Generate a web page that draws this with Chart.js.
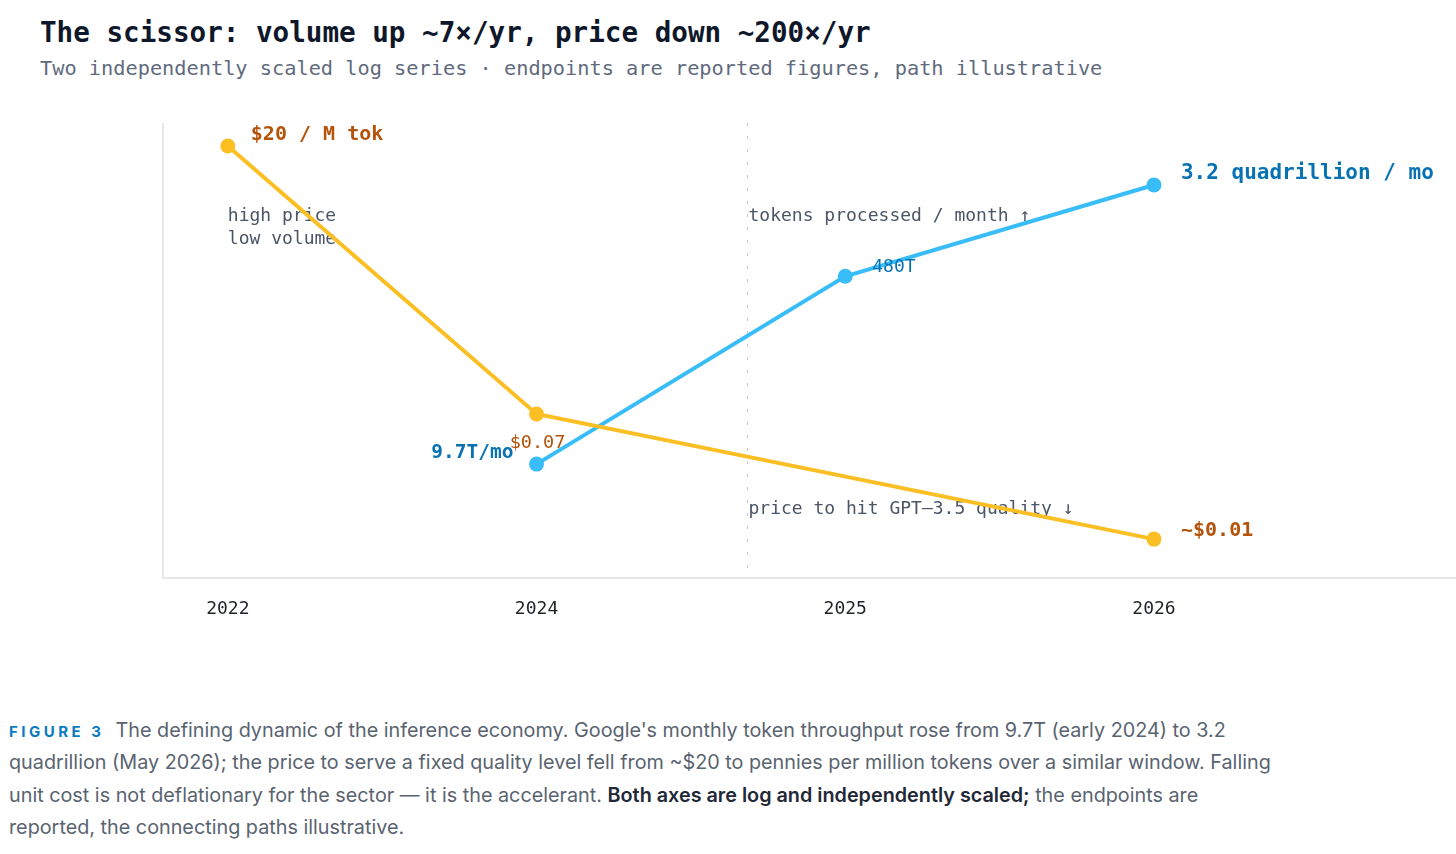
<!DOCTYPE html>
<html>
<head>
<meta charset="utf-8">
<script src="https://cdn.jsdelivr.net/npm/chart.js@4"></script>
<style>
  html, body { margin: 0; padding: 0; background: #ffffff; }
  body { width: 1456px; height: 854px; position: relative; overflow: hidden; }
  #title { position: absolute; left: 40px; top: 16px; font-family: "DejaVu Sans Mono", monospace; font-weight: bold; font-size: 27.6px; color: #0f172a; white-space: nowrap; }
  #subtitle { position: absolute; left: 40px; top: 56px; font-family: "DejaVu Sans Mono", monospace; font-size: 20.3px; color: #5f6b7d; white-space: nowrap; }
  #wrap { position: absolute; left: 0; top: 100px; width: 1464px; height: 560px; }
  #caption { position: absolute; left: 9px; top: 714px; font-family: Inter, Roboto, sans-serif; font-size: 19.8px; line-height: 32.3px; color: #59636f; white-space: nowrap; }
  #caption .line { display: block; height: 32.3px; }
  #caption .fig { font-weight: bold; font-size: 15px; letter-spacing: 3.5px; color: #0b7bc1; margin-right: 11px; }
  #caption b { color: #1f2937; font-weight: 600; }
</style>
</head>
<body>
<div id="title">The scissor: volume up ~7×/yr, price down ~200×/yr</div>
<div id="subtitle">Two independently scaled log series · endpoints are reported figures, path illustrative</div>
<div id="wrap"><canvas id="c" width="1464" height="560"></canvas></div>
<div id="caption"><span class="line"><span class="fig">FIGURE 3</span>The defining dynamic of the inference economy. Google's monthly token throughput rose from 9.7T (early 2024) to 3.2</span><span class="line">quadrillion (May 2026); the price to serve a fixed quality level fell from ~$20 to pennies per million tokens over a similar window. Falling</span><span class="line">unit cost is not deflationary for the sector — it is the accelerant. <b>Both axes are log and independently scaled;</b> the endpoints are</span><span class="line">reported, the connecting paths illustrative.</span></div>
<script>
// ---- data ----
const years = ['2022', '2024', '2025', '2026'];
const yearIndex = [0, 1, 2, 3];
const priceYears = [0, 1, 3];          // indices into years
const priceValues = [20, 0.07, 0.005]; // $ per M tokens (as plotted)
const volumeYears = [1, 2, 3];
const volumeValues = [9.7, 480, 3200]; // trillion tokens / month
const priceLabels = ['$20 / M tok', '$0.07', '~$0.01'];
const volumeLabels = ['9.7T/mo', '480T', '3.2 quadrillion / mo'];
const dividerX = 1.683;

const ORANGE = '#fbbf24', ORANGE_TXT = '#b45309';
const BLUE = '#38bdf8', BLUE_TXT = '#0872b3';
const MONO = '"DejaVu Sans Mono", monospace';

const priceData = priceYears.map((x, i) => ({ x: x, y: priceValues[i] }));
const volumeData = volumeYears.map((x, i) => ({ x: x, y: volumeValues[i] }));

// label placement: [datasetIndex, pointIndex, dx, dy, align, bold, size, colour, text]
const labelSpecs = [
  [0, 0, 23, -11, 'left', true, 20, ORANGE_TXT, priceLabels[0]],
  [0, 1, 1, 29, 'center', false, 18.5, ORANGE_TXT, priceLabels[1]],
  [0, 2, 27, -8, 'left', true, 20, ORANGE_TXT, priceLabels[2]],
  [1, 0, -23, -11, 'right', true, 19.5, BLUE_TXT, volumeLabels[0]],
  [1, 1, 27, -9, 'left', false, 18, BLUE_TXT, volumeLabels[1]],
  [1, 2, 27, -11, 'left', true, 21, BLUE_TXT, volumeLabels[2]]
];

const decor = {
  id: 'decor',
  beforeDatasetsDraw(chart) {
    const { ctx, chartArea: a, scales } = chart;
    ctx.save();
    ctx.strokeStyle = '#e5e7eb';
    ctx.lineWidth = 2;
    ctx.beginPath();
    ctx.moveTo(a.left, a.top);
    ctx.lineTo(a.left, a.bottom);
    ctx.lineTo(a.right, a.bottom);
    ctx.stroke();
    const dx = Math.round(scales.x.getPixelForValue(dividerX)) + 0.5;
    ctx.strokeStyle = '#c4c9d1';
    ctx.lineWidth = 1;
    ctx.setLineDash([3, 10]);
    ctx.beginPath();
    ctx.moveTo(dx, a.top);
    ctx.lineTo(dx, a.bottom - 8);
    ctx.stroke();
    ctx.setLineDash([]);
    ctx.fillStyle = '#4b5565';
    ctx.font = '18px ' + MONO;
    ctx.textAlign = 'left';
    ctx.textBaseline = 'middle';
    const x0 = scales.x.getPixelForValue(0);
    ctx.fillText('high price', x0, 116);
    ctx.fillText('low volume', x0, 139);
    ctx.fillText('tokens processed / month ↑', dx + 1, 116);
    ctx.fillText('price to hit GPT–3.5 quality ↓', dx + 1, 409);
    ctx.restore();
  },
  afterDatasetsDraw(chart) {
    const { ctx } = chart;
    ctx.save();
    ctx.textBaseline = 'middle';
    labelSpecs.forEach(s => {
      const el = chart.getDatasetMeta(s[0]).data[s[1]];
      ctx.font = (s[5] ? 'bold ' : '') + s[6] + 'px ' + MONO;
      ctx.fillStyle = s[7];
      ctx.textAlign = s[4];
      ctx.fillText(s[8], el.x + s[2], el.y + s[3]);
    });
    ctx.restore();
  }
};

new Chart(document.getElementById('c'), {
  type: 'line',
  data: {
    datasets: [
      { label: 'price', data: priceData, yAxisID: 'yPrice', borderColor: ORANGE, backgroundColor: ORANGE,
        borderWidth: 4, pointRadius: 7.5, pointHoverRadius: 7.5, pointBorderWidth: 0, tension: 0 },
      { label: 'volume', data: volumeData, yAxisID: 'yVol', borderColor: BLUE, backgroundColor: BLUE,
        borderWidth: 4, pointRadius: 7.5, pointHoverRadius: 7.5, pointBorderWidth: 0, tension: 0 }
    ]
  },
  options: {
    responsive: false,
    animation: false,
    layout: { padding: { left: 163, right: 0, top: 23, bottom: 22 } },
    plugins: { legend: { display: false }, tooltip: { enabled: false } },
    scales: {
      x: {
        type: 'linear', min: -0.21, max: 3.98,
        grid: { display: false }, border: { display: false },
        afterBuildTicks: sc => { sc.ticks = yearIndex.map(v => ({ value: v })); },
        afterFit: sc => { sc.height = 60; },
        ticks: { padding: 13, color: '#1f2328', font: { family: MONO, size: 18 },
                 callback: v => years[v] },
      },
      yPrice: { type: 'logarithmic', display: false, min: 0.0022, max: 32.5 },
      yVol: { type: 'logarithmic', display: false, min: 0.91, max: 11600 }
    }
  },
  plugins: [decor]
});
</script>
</body>
</html>
